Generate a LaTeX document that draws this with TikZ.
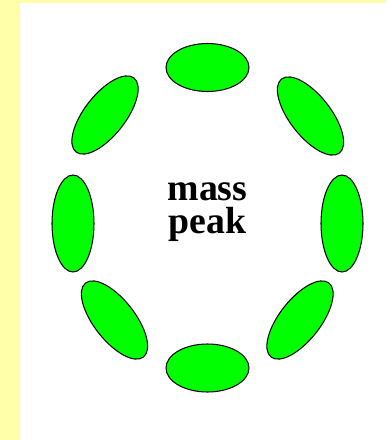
\documentclass[tikz,border=0pt]{standalone}
\usepackage{fontspec}
\setmainfont{Liberation Serif}
\usetikzlibrary{shapes.geometric}
\definecolor{paleyellow}{RGB}{255,255,170}
\definecolor{peakgreen}{RGB}{0,255,0}
\begin{document}
\begin{tikzpicture}[x=0.02cm, y=-0.02cm,
	blob/.style={draw, ellipse, fill=peakgreen, line width=0.6pt, inner sep=0pt, outer sep=0pt},
	flat/.style={blob, minimum width=1.66cm, minimum height=0.96cm},
	tall/.style={blob, minimum width=0.84cm, minimum height=1.94cm},
	tilted/.style={blob, minimum width=1.88cm, minimum height=0.82cm}]
	% Background
	\fill[paleyellow] (0,0) rectangle (386,440);
	\fill[white] (20,3) rectangle (386,440);

	% Ring of peaks
	\node[flat] (top) at (207.5,67.5) {};
	\node[flat] (bottom) at (207.5,368) {};
	\node[tall] (left) at (73,223.5) {};
	\node[tall] (right) at (342,223.5) {};
	\node[tilted, rotate=52] (topleft) at (105,115) {};
	\node[tilted, rotate=-52] (topright) at (310.5,116) {};
	\node[tilted, rotate=-52] (bottomleft) at (114.5,320) {};
	\node[tilted, rotate=52] (bottomright) at (300,320) {};

	% Label
	\node[align=center, inner sep=0pt, font=\fontsize{21.5pt}{18.7pt}\selectfont\bfseries] (label) at (207.5,212) {mass\\peak};
\end{tikzpicture}
\end{document}
